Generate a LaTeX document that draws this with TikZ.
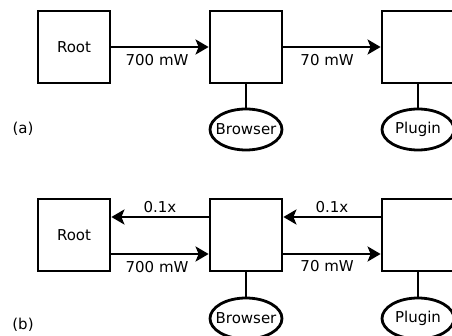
\documentclass[tikz,border=0pt]{standalone}
\usepackage{fontspec}
\setmainfont{DejaVu Sans}
\usetikzlibrary{arrows.meta,shapes.geometric}

\tikzset{
  proc/.style={draw, minimum size=72pt, inner sep=0pt},
  app/.style={draw, ellipse, minimum width=72pt, minimum height=41pt, inner sep=0pt},
  flow/.style={-{Stealth[length=13pt,width=15pt,inset=3pt]}},
}

\begin{document}
\begin{tikzpicture}[x=1pt, y=1pt, line width=2.8pt, font=\fontsize{15}{18}\selectfont]
    \useasboundingbox (0,0) rectangle (452,335);
    \clip (0,0) rectangle (452,335);

    % (a) power only goes down the chain
    \node[proc] (root-a) at (74,288) {Root};
    \node[proc] (mid-a) at (246,288) {};
    \node[proc] (leaf-a) at (418,288) {};
    \node[app, label=center:Browser] (browser-a) at (246,205.5) {};
    \node[app, label=center:Plugin] (plugin-a) at (418,205.5) {};
    \draw (mid-a) -- (browser-a);
    \draw (leaf-a) -- (plugin-a);
    \draw[flow] (root-a) -- node[pos=0.47, below=3pt] {700 mW} (mid-a);
    \draw[flow] (mid-a) -- node[pos=0.45, below=3pt] {70 mW} (leaf-a);
    \node (tag-a) at (23,206) {(a)};

    % (b) with feedback going back up
    \node[proc] (root-b) at (74,100) {Root};
    \node[proc] (mid-b) at (246,100) {};
    \node[proc] (leaf-b) at (418,100) {};
    \node[app, label=center:Browser] (browser-b) at (246,16.5) {};
    \node[app, label=center:Plugin] (plugin-b) at (418,16.5) {};
    \draw (mid-b) -- (browser-b);
    \draw (leaf-b) -- (plugin-b);
    \draw[flow] ([yshift=18pt]mid-b.west) -- node[above] {0.1x} ([yshift=18pt]root-b.east);
    \draw[flow] ([yshift=18pt]leaf-b.west) -- node[above] {0.1x} ([yshift=18pt]mid-b.east);
    \draw[flow] ([yshift=-19pt]root-b.east) -- node[pos=0.47, below=3pt] {700 mW} ([yshift=-19pt]mid-b.west);
    \draw[flow] ([yshift=-19pt]mid-b.east) -- node[pos=0.45, below=2pt] {70 mW} ([yshift=-19pt]leaf-b.west);
    \node (tag-b) at (23,10) {(b)};
\end{tikzpicture}
\end{document}
